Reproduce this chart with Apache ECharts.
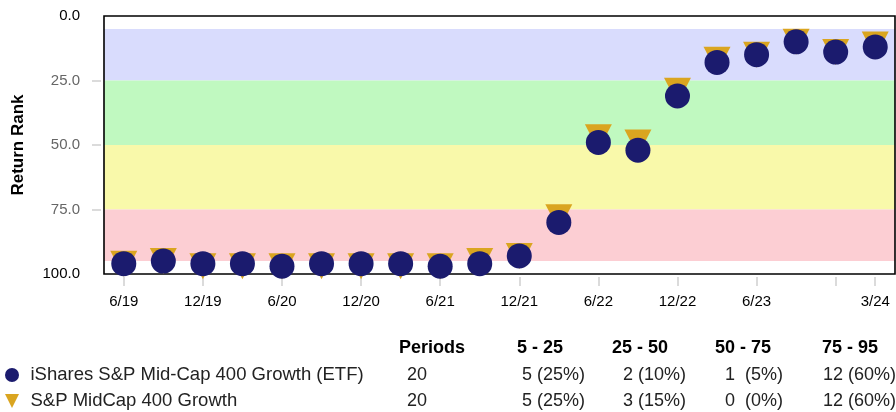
<!DOCTYPE html>
<html><head><meta charset="utf-8">
<script src="https://cdn.jsdelivr.net/npm/echarts@6/dist/echarts.min.js"></script>
<style>html,body{margin:0;padding:0;background:#fff}#c{width:896px;height:412px}</style>
</head><body><div id="c"></div>
<script>
const categories = ['6/19','9/19','12/19','3/20','6/20','9/20','12/20','3/21','6/21','9/21','12/21','3/22','6/22','9/22','12/22','3/23','6/23','9/23','12/23','3/24'];
const etfRanks   = [96,95,96,96,97,96,96,96,97,96,93,80,49,52,31,18,15,10,14,12];
const benchRanks = [96,95,97,97,97,97,97,97,97,95,93,78,47,49,29,17,15,10,14,11];
const yTickValues = [0,25,50,75,100];
const bandRanges = [[5,25],[25,50],[50,75],[75,95]];
const seriesNames = ['iShares S&P Mid-Cap 400 Growth (ETF)','S&P MidCap 400 Growth'];
const tableHeaders = ['Periods','5 - 25','25 - 50','50 - 75','75 - 95'];
const periodCounts = [20, 20];
const etfCounts   = [5, 2, 1, 12];
const benchCounts = [5, 3, 0, 12];

// styles
const bandColors = ['#d9dcfd','#c0f9c0','#f9f9aa','#fcced3'];
const FONT = '"Liberation Sans", Arial, sans-serif';
const headerX = [399, 517, 612, 715, 822];
const valueX  = [407, 522, 623, 725, 823];
const rowY = [348, 375, 401];
const TRI = 'path://M0,0L2,0L1,2Z';

function fmt(c, total){
  const p = Math.round(c / total * 100);
  return c + ' ' + (p < 10 ? ' ' : '') + '(' + p + '%)';
}
const graphics = [];
tableHeaders.forEach((h,i)=>graphics.push({type:'text', x:headerX[i], y:rowY[0],
  style:{text:h, font:'bold 18px ' + FONT, fill:'#000', verticalAlign:'middle', align:'left'}}));
[[periodCounts[0], etfCounts],[periodCounts[1], benchCounts]].forEach((row, r)=>{
  const vals = [String(row[0])].concat(row[1].map(c=>fmt(c, row[0])));
  vals.forEach((v,i)=>graphics.push({type:'text', x:valueX[i], y:rowY[r+1],
    style:{text:v, font:'18px ' + FONT, fill:'#222', verticalAlign:'middle', align:'left'}}));
});

const legendBase = {orient:'horizontal', left:5, padding:0, itemWidth:15, itemHeight:14, selectedMode:false,
  textStyle:{fontSize:18.5, color:'#222', lineHeight:20, padding:[0,0,0,6], fontFamily:FONT}};

const n = categories.length;
const chart = echarts.init(document.getElementById('c'), null, {renderer:'canvas'});
chart.setOption({
  animation:false,
  textStyle:{fontFamily:FONT},
  grid:{left:104, right:1, top:16, height:258, show:true, borderColor:'#000', borderWidth:1.6, backgroundColor:'transparent', z:2},
  legend:[
    Object.assign({}, legendBase, {top:rowY[1]-10, data:[{name:seriesNames[0], icon:'circle'}]}),
    Object.assign({}, legendBase, {top:rowY[2]-10, data:[{name:seriesNames[1], icon:TRI}]})
  ],
  xAxis:{type:'category', data:categories, boundaryGap:true, offset:3, position:'bottom',
    axisLine:{show:false, onZero:false},
    axisTick:{show:true, alignWithLabel:true, length:9, interval:(i)=> i%2===0 || i===n-1, lineStyle:{color:'#d0d0d0', width:1.5}},
    axisLabel:{interval:(i)=> (i%2===0 && i < n-2) || i===n-1, margin:17, fontSize:15, color:'#000', fontFamily:FONT},
    splitLine:{show:false}},
  yAxis:{type:'value', inverse:true, min:yTickValues[0], max:yTickValues[yTickValues.length-1], interval:25, offset:3,
    axisLine:{show:false}, splitLine:{show:false},
    axisTick:{show:true, length:9, customValues:yTickValues.slice(1,-1), lineStyle:{color:'#d0d0d0', width:1.5}},
    axisLabel:{formatter:(v)=>Number(v).toFixed(1), fontSize:15, margin:21, fontFamily:FONT,
      color:(v)=> (Number(v)===0 || Number(v)===100) ? '#000' : '#666'},
    name:'Return Rank', nameLocation:'middle', nameRotate:90, nameGap:74,
    nameTextStyle:{fontWeight:'bold', fontSize:17, color:'#000', fontFamily:FONT}},
  series:[
    {name:seriesNames[1], type:'scatter', data:benchRanks, symbol:TRI, symbolSize:[27,26],
      itemStyle:{color:'#daa520', opacity:1}, z:3, clip:false,
      markArea:{silent:true, z:1, data:bandRanges.map((r,i)=>[{yAxis:r[0], itemStyle:{color:bandColors[i], opacity:1, borderWidth:0}},{yAxis:r[1]}])}},
    {name:seriesNames[0], type:'scatter', data:etfRanks, symbol:'circle', symbolSize:25,
      itemStyle:{color:'#1b1b6e', opacity:1}, z:4, clip:false}
  ],
  graphic:graphics
});
</script></body></html>
